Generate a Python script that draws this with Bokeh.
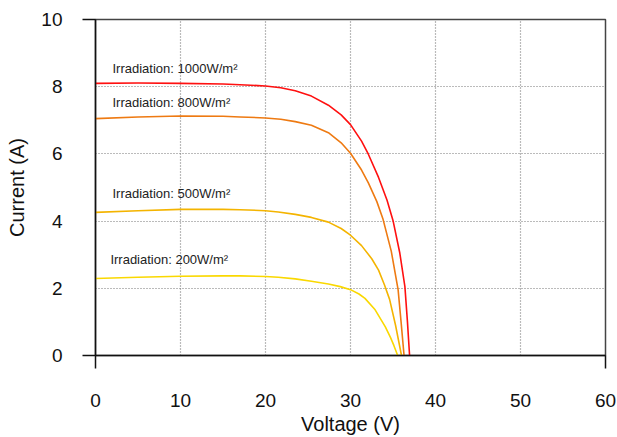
from bokeh.plotting import figure
from bokeh.models import Range1d, FixedTicker, Label
from bokeh.embed import file_html
from bokeh.resources import INLINE

# ---- data ----
v_1000 = [0, 5, 10, 15, 17, 20, 21.8, 23.5, 25.4, 27.4, 28.9, 30.0, 31.3, 32.1, 33.3, 34.3, 35.0, 35.8, 36.4, 36.7, 36.95]
i_1000 = [8.10, 8.11, 8.10, 8.08, 8.06, 8.02, 7.97, 7.88, 7.72, 7.45, 7.16, 6.87, 6.38, 5.99, 5.30, 4.62, 4.02, 3.05, 2.05, 1.00, 0.0]

v_800 = [0, 5, 10, 15, 17, 20, 21.8, 23.5, 25.4, 27.4, 28.9, 30.0, 31.3, 32.1, 33.1, 33.8, 34.8, 35.6, 35.95, 36.3]
i_800 = [7.05, 7.10, 7.13, 7.12, 7.10, 7.07, 7.03, 6.96, 6.85, 6.63, 6.33, 6.02, 5.52, 5.14, 4.58, 4.08, 3.10, 1.96, 1.00, 0.0]

v_500 = [0, 5, 10, 15, 17, 20, 21.5, 23.5, 25.4, 27.4, 28.9, 30.0, 31.3, 32.5, 33.3, 34.0, 34.6, 35.3, 36.0]
i_500 = [4.26, 4.31, 4.35, 4.35, 4.34, 4.31, 4.27, 4.20, 4.11, 3.97, 3.78, 3.58, 3.27, 2.88, 2.54, 2.10, 1.67, 0.90, 0.0]

v_200 = [0, 5, 10, 15, 17, 20, 21.5, 23.5, 25.4, 27.4, 28.8, 30.0, 31.0, 31.7, 32.9, 34.1, 34.7, 35.1, 35.55]
i_200 = [2.29, 2.33, 2.36, 2.37, 2.37, 2.35, 2.33, 2.28, 2.21, 2.13, 2.05, 1.96, 1.83, 1.70, 1.36, 0.85, 0.54, 0.30, 0.0]

series_labels = ["Irradiation: 1000W/m\u00b2", "Irradiation: 800W/m\u00b2",
                 "Irradiation: 500W/m\u00b2", "Irradiation: 200W/m\u00b2"]
label_x = [2.0, 2.0, 2.0, 1.75]
label_y = [8.54, 7.53, 4.82, 2.86]
colors = ["#ff1010", "#ee7a12", "#f4b400", "#fad800"]

x_ticks = [0, 10, 20, 30, 40, 50, 60]
y_ticks = [0, 2, 4, 6, 8, 10]
x_title = "Voltage (V)"
y_title = "Current (A)"

FONT = "Liberation Sans"

p = figure(width=617, height=437, output_backend="svg", toolbar_location=None,
           x_range=Range1d(0, 60), y_range=Range1d(0, 10),
           min_border_left=95, min_border_right=12, min_border_top=19, min_border_bottom=82,
           background_fill_color="white", border_fill_color="white")

p.outline_line_color = "#444444"
p.outline_line_width = 1.5

for ax, ticks, ends in ((p.xaxis[0], x_ticks, [0, 60]), (p.yaxis[0], y_ticks, [0, 10])):
    ax.ticker = FixedTicker(ticks=ticks, minor_ticks=ends)
    ax.major_tick_line_color = None
    ax.major_tick_out = 0
    ax.major_tick_in = 0
    ax.minor_tick_line_color = "#111111"
    ax.minor_tick_line_width = 1.5
    ax.minor_tick_out = 13
    ax.minor_tick_in = 0
    ax.axis_line_color = "#111111"
    ax.axis_line_width = 1.5
    ax.major_label_text_font = FONT
    ax.major_label_text_font_size = "19px"
    ax.major_label_text_color = "#111111"
    ax.axis_label_text_font = FONT
    ax.axis_label_text_font_size = "20px"
    ax.axis_label_text_font_style = "normal"
    ax.axis_label_text_color = "#111111"

p.xaxis.axis_label = x_title
p.yaxis.axis_label = y_title
p.xaxis.major_label_standoff = 25
p.xaxis.axis_label_standoff = 3
p.yaxis.major_label_standoff = 20
p.yaxis.axis_label_standoff = 10

for g in (p.xgrid[0], p.ygrid[0]):
    g.grid_line_color = "#777777"
    g.grid_line_dash = "1 2"
    g.grid_line_width = 1.2

curves = [(v_1000, i_1000), (v_800, i_800), (v_500, i_500), (v_200, i_200)]
for (vv, ii), c in zip(curves, colors):
    p.line(vv, ii, line_color=c, line_width=1.6, line_join="round")

for t, lx, ly in zip(series_labels, label_x, label_y):
    p.add_layout(Label(x=lx, y=ly, text=t, text_font=FONT, text_font_size="13px",
                       text_color="#222222", text_baseline="middle", text_align="left"))

open("out.html", "w").write(file_html(p, INLINE))
